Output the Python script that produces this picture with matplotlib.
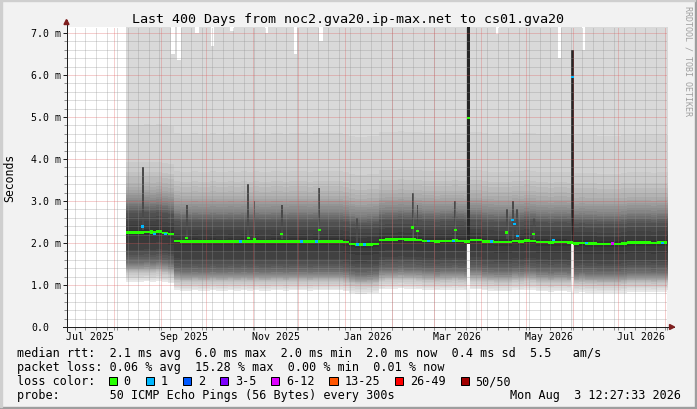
import numpy as np
import matplotlib
matplotlib.use("Agg")
import matplotlib.pyplot as plt
import matplotlib.dates as mdates
from matplotlib.patches import Rectangle, Polygon
from matplotlib.transforms import blended_transform_factory, IdentityTransform
from datetime import datetime, timedelta

plt.rcParams["font.family"] = ["DejaVu Sans Mono"]
plt.rcParams["lines.scale_dashes"] = False

W, H = 697, 410

title = "Last 400 Days from noc2.gva20.ip-max.net to cs01.gva20"

# visible time range of the graph
view_start = datetime(2025, 6, 30, 11, 0)
view_end = datetime(2026, 8, 2, 7, 0)

# median rtt (ms), one reading every 4 days from 2025-08-08 18:00
series_start = datetime(2025, 8, 8, 18, 0)
step_days = 4
median_ms = [
    2.25, 2.25, 2.25, 2.26, 2.25, 2.27, 2.24, 2.21, 2.05, 2.03,
    2.03, 2.04, 2.03, 2.03, 2.04, 2.03, 2.03, 2.04, 2.03, 2.04,
    2.03, 2.04, 2.03, 2.03, 2.04, 2.04, 2.03, 2.04, 2.04, 2.04,
    2.03, 2.04, 2.04, 2.04, 2.04, 2.04, 2.02, 1.98, 1.96, 1.96,
    1.97, 1.98, 2.07, 2.08, 2.08, 2.09, 2.08, 2.08, 2.07, 2.05,
    2.05, 2.04, 2.05, 2.05, 2.06, 2.05, 2.04, 2.07, 2.07, 2.04,
    2.03, 2.02, 2.02, 2.02, 2.05, 2.04, 2.06, 2.05, 2.02, 2.02,
    2.01, 2.02, 2.02, 2.01, 1.99, 2.00, 1.99, 1.99, 1.98, 1.98,
    1.98, 1.98, 1.99, 2.01, 2.01, 2.01, 2.01, 2.00, 2.01, 2.01,
    2.00,
]

# the 50 sorted pings of a typical slot around a 2.03 ms median (read off the smoke shades)
profile_median_ms = 2.03
ping_profile_ms = [
    0.86, 0.90, 0.94, 0.98, 1.02, 1.06, 1.09, 1.11, 1.13, 1.15,
    1.17, 1.19, 1.21, 1.24, 1.26, 1.29, 1.31, 1.35, 1.39, 1.44,
    1.50, 1.56, 1.62, 1.78, 1.95,
    2.10, 2.20, 2.30, 2.40, 2.50, 2.54, 2.58, 2.62, 2.66, 2.70,
    2.74, 2.80, 2.86, 2.92, 2.98, 3.04, 3.12, 3.22, 3.34, 3.46,
    3.70, 4.60, 7.60, 9.00, 12.0,
]

# single slots with a different median or some loss
event_dates = [
    "2025-08-20", "2025-08-26", "2025-08-28", "2025-09-04", "2025-09-18",
    "2025-10-24", "2025-10-29", "2025-11-02", "2025-11-20", "2025-12-03",
    "2025-12-13", "2025-12-15", "2026-01-09", "2026-01-14", "2026-02-15",
    "2026-02-18", "2026-02-25", "2026-03-14", "2026-03-15", "2026-03-24",
    "2026-04-08", "2026-04-18", "2026-04-22", "2026-04-23", "2026-04-25",
    "2026-05-06", "2026-05-19", "2026-06-01", "2026-06-10", "2026-06-27",
    "2026-07-30",
]
event_median_ms = [
    2.39, 2.29, 2.22, 2.21, 2.12,
    2.03, 2.12, 2.10, 2.21, 2.03,
    2.03, 2.31, 1.96, 1.96, 2.37,
    2.29, 2.05, 2.05, 2.31, 4.98,
    2.03, 2.25, 2.55, 2.45, 2.17,
    2.21, 2.07, 5.95, 2.00, 1.99,
    2.00,
]
event_loss = [
    1, 0, 1, 1, 0,
    1, 0, 0, 0, 1,
    1, 0, 1, 1, 0,
    0, 1, 1, 0, 0,
    1, 0, 1, 1, 1,
    0, 1, 1, 1, 4,
    1,
]

# darker smoke streaks above the median
streak_dates = ["2025-08-20", "2025-09-18", "2025-10-29", "2025-11-02", "2025-11-20",
                "2025-12-15", "2026-01-09", "2026-02-15", "2026-02-18", "2026-03-15",
                "2026-04-18", "2026-04-22", "2026-04-25", "2026-05-06"]
streak_lo_ms = [2.30, 2.10, 2.10, 2.10, 2.10, 2.10, 2.00, 2.10, 2.10, 2.10, 2.10, 2.10, 2.10, 2.10]
streak_hi_ms = [3.80, 2.90, 3.40, 3.00, 2.90, 3.30, 2.60, 3.20, 2.90, 3.00, 2.80, 3.00, 2.80, 2.60]

# slots where all pings were high
spike_dates = ["2026-03-24", "2026-06-01"]
spike_lo_ms = [1.97, 1.97]
spike_hi_ms = [7.20, 6.60]

# slots whose slowest ping stayed under the top of the graph
gap_dates = ["2025-09-09", "2025-09-13", "2025-09-25", "2025-10-05", "2025-10-18",
             "2025-11-10", "2025-11-29", "2025-12-16", "2026-04-12", "2026-05-23",
             "2026-06-08"]
gap_from_ms = [6.50, 6.35, 7.00, 6.70, 7.05, 7.00, 6.50, 6.80, 6.98, 6.40, 6.60]

loss_labels = ["0", "1", "2", "3-5", "6-12", "13-25", "26-49", "50/50"]
loss_colors = ["#26ff00", "#00b8ff", "#0059ff", "#7e00ff", "#dd00ff", "#ff5500", "#ff0000", "#a10000"]

y_ticks = [0, 1, 2, 3, 4, 5, 6, 7]
y_tick_labels = ["0.0", "1.0 m", "2.0 m", "3.0 m", "4.0 m", "5.0 m", "6.0 m", "7.0 m"]
x_label_dates = ["2025-07-16", "2025-09-16", "2025-11-16", "2026-01-16",
                 "2026-03-16", "2026-05-16", "2026-07-16"]
x_labels = ["Jul 2025", "Sep 2025", "Nov 2025", "Jan 2026", "Mar 2026", "May 2026", "Jul 2026"]

row_rtt = "median rtt:  2.1 ms avg  6.0 ms max  2.0 ms min  2.0 ms now  0.4 ms sd  5.5   am/s"
row_loss = "packet loss: 0.06 % avg  15.28 % max  0.00 % min  0.01 % now"
row_probe = "probe:       50 ICMP Echo Pings (56 Bytes) every 300s"
stamp = "Mon Aug  3 12:27:33 2026"


def dnum(s):
    return mdates.date2num(datetime.strptime(s, "%Y-%m-%d"))


def fpos(x, y):
    return x / W, 1 - y / H


fig = plt.figure(figsize=(W / 100, H / 100), dpi=100, facecolor="#f2f2f2")
fig.add_artist(Rectangle((0, 0), 1, 2 / H, transform=fig.transFigure, color="#9e9e9e"))
fig.add_artist(Rectangle((1 - 2 / W, 0), 2 / W, 1, transform=fig.transFigure, color="#9e9e9e"))
fig.add_artist(Rectangle((0, 1 - 2 / H), 1 - 2 / W, 2 / H, transform=fig.transFigure, color="#cfcfcf"))
fig.add_artist(Rectangle((0, 2 / H), 2 / W, 1 - 2 / H, transform=fig.transFigure, color="#cfcfcf"))

ax_left, ax_right, ax_top, ax_bot = 66.5, 667.0, 28.0, 328.0
ax = fig.add_axes([ax_left / W, 1 - ax_bot / H, (ax_right - ax_left) / W, (ax_bot - ax_top) / H])
ax.set_facecolor("white")
ymax = 300 / 42
ax.set_xlim(mdates.date2num(view_start), mdates.date2num(view_end))
ax.set_ylim(0, ymax)
for s in ax.spines.values():
    s.set_visible(False)

# smoke
t0 = mdates.date2num(series_start)
n = len(median_ms)
edges = t0 + step_days * np.arange(n + 1)
base = np.array(median_ms)
pings = base[:, None] + (np.array(ping_profile_ms) - profile_median_ms)[None, :]
half = len(ping_profile_ms) // 2
for i in range(half):
    shade = int(190 / half * (half - (i + 1))) + 50
    col = "#%02x%02x%02x" % (shade, shade, shade)
    lo = np.append(pings[:, i], pings[-1, i])
    hi = np.append(pings[:, -1 - i], pings[-1, -1 - i])
    ax.fill_between(edges, lo, hi, step="post", color=col, lw=0, antialiased=False, zorder=1)

gd = [dnum(d) for d in gap_dates]
ax.bar(gd, [ymax + 1 - g for g in gap_from_ms], bottom=gap_from_ms, width=2.2,
       color="white", lw=0, zorder=1.5)

sd = [dnum(d) for d in streak_dates]
ax.bar(sd, np.array(streak_hi_ms) - np.array(streak_lo_ms), bottom=streak_lo_ms, width=1.3,
       color="#4a4a4a", lw=0, zorder=1.6)

pd_ = [dnum(d) for d in spike_dates]
ax.bar(pd_, spike_lo_ms, bottom=0, width=2.0, color="#f8f8f8", lw=0, zorder=1.7)
ax.bar(pd_, np.array(spike_hi_ms) - np.array(spike_lo_ms), bottom=spike_lo_ms, width=2.0,
       color="#262626", lw=0, zorder=1.7)

# grid: 1 px on, 1 px off
dots = (0, (0.72, 0.72))
minor_c, major_c = (0.56, 0.56, 0.56, 0.6), (0.87, 0.31, 0.31, 0.55)
for k in range(1, 36):
    v = k * 0.2
    if k % 5:
        ax.axhline(v, color=minor_c, lw=0.72, ls=dots, zorder=3)
for v in y_ticks[1:]:
    ax.axhline(v, color=major_c, lw=0.72, ls=dots, zorder=3.1)

sundays = []
d = view_start.replace(hour=0, minute=0) + timedelta(days=(6 - view_start.weekday()) % 7)
while d < view_end:
    sundays.append(mdates.date2num(d))
    d += timedelta(days=7)
months = []
y, m = 2025, 7
while datetime(y, m, 1) < view_end:
    months.append(mdates.date2num(datetime(y, m, 1)))
    y, m = (y + 1, 1) if m == 12 else (y, m + 1)
for x in sundays:
    ax.axvline(x, color=minor_c, lw=0.72, ls=dots, zorder=3)
for x in months:
    ax.axvline(x, color=major_c, lw=0.72, ls=dots, zorder=3.1)

# median markers
mh = 0.06
ax.bar(edges[:-1], mh, bottom=base - mh / 2, width=step_days, align="edge",
       color=loss_colors[0], lw=0, zorder=5)
ed = [dnum(d) for d in event_dates]
ax.bar(ed, mh, bottom=np.array(event_median_ms) - mh / 2, width=2.0,
       color=[loss_colors[k] for k in event_loss], lw=0, zorder=6)

# axes, ticks
ax.set_xticks([dnum(d) for d in x_label_dates])
ax.set_xticklabels(x_labels, fontsize=7.1)
ax.set_xticks(sundays + months, minor=True)
ax.tick_params(axis="x", which="major", length=0, pad=3)
ax.tick_params(axis="x", which="minor", length=2, width=0.72, color="#8f8f8f")
ax.set_yticks(y_ticks)
ax.set_yticklabels([])
ax.set_yticks([k * 0.2 for k in range(36)], minor=True)
ax.tick_params(axis="y", which="major", length=3, width=0.72, color="#1f1f1f")
ax.tick_params(axis="y", which="minor", length=2, width=0.72, color="#8f8f8f")

ylab_tr = blended_transform_factory(IdentityTransform(), ax.transData)
for v, lab in zip(y_ticks, y_tick_labels):
    ax.text(31, v, lab, transform=ylab_tr, ha="left", va="center", fontsize=7.1)

ax_w, ax_h = ax_right - ax_left, ax_bot - ax_top
ax.plot([0, 0], [-4 / ax_h, 1.0233], transform=ax.transAxes, clip_on=False,
        color="#1f1f1f", lw=0.72, zorder=7)
ax.plot([-4 / ax_w, 1.0117], [0, 0], transform=ax.transAxes, clip_on=False,
        color="#1f1f1f", lw=0.72, zorder=7)
ax.add_patch(Polygon([(-2.5 / ax_w, 1.0083), (2.5 / ax_w, 1.0083), (0, 1.025)],
                     transform=ax.transAxes, clip_on=False, color="#7f1f1f", zorder=8))
ax.add_patch(Polygon([(1.0042, -2.5 / ax_h), (1.0042, 2.5 / ax_h), (1.0125, 0)],
                     transform=ax.transAxes, clip_on=False, color="#7f1f1f", zorder=8))

# texts
fig.text(*fpos(348.5, 19), title, ha="center", va="center", fontsize=9.6)
fig.text(*fpos(10, 178), "Seconds", rotation=90, ha="center", va="center", fontsize=8.3)
fig.text(*fpos(688, 61), "RRDTOOL / TOBI OETIKER", rotation=270, ha="center", va="center",
         fontsize=6, color="#a0a0a0")

cw = 7.1
fig.text(*fpos(16.7, 353.5), row_rtt, ha="left", va="center", fontsize=8.5)
fig.text(*fpos(16.7, 368), row_loss, ha="left", va="center", fontsize=8.5)
fig.text(*fpos(16.7, 382), "loss color:", ha="left", va="center", fontsize=8.5)
bx = 108.5
for lab, col in zip(loss_labels, loss_colors):
    fig.add_artist(Rectangle(((bx) / W, 1 - 386.2 / H), 8.4 / W, 8.4 / H, transform=fig.transFigure,
                             facecolor=col, edgecolor="black", lw=0.72))
    fig.text(*fpos(bx + 15, 382), lab, ha="left", va="center", fontsize=8.5)
    bx += 15 + cw * len(lab) + 15
fig.text(*fpos(16.7, 396), row_probe, ha="left", va="center", fontsize=8.5)
fig.text(*fpos(681, 396), stamp, ha="right", va="center", fontsize=8.5)

fig.savefig("out.png", dpi=100, facecolor=fig.get_facecolor())
